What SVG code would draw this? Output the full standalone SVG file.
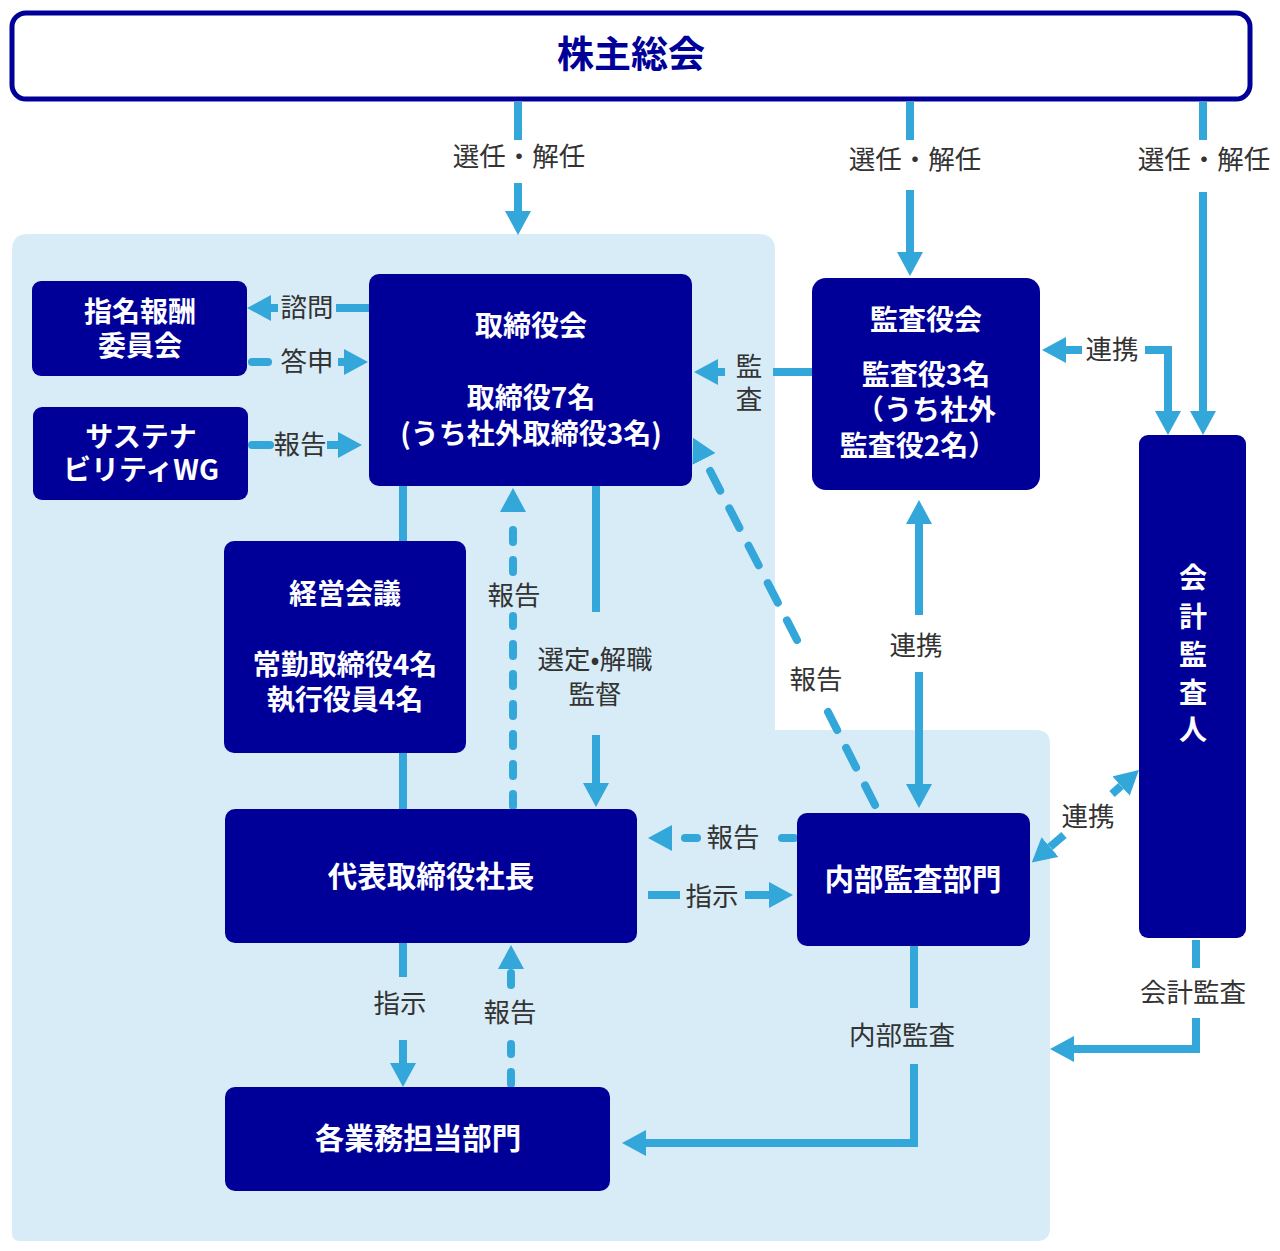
<svg xmlns="http://www.w3.org/2000/svg" width="1280" height="1251" viewBox="0 0 1280 1251">
<style>
.node{fill:#000099}
.nt{fill:#fff;font-family:"Noto Sans CJK JP","Noto Sans",sans-serif;font-weight:bold;font-size:28px;text-anchor:middle}
.nt1{font-size:29.5px}
.lbl{fill:#333;font-family:"Noto Sans CJK JP","Noto Sans",sans-serif;font-size:26.5px;text-anchor:middle}
.c{fill:none;stroke:#33A6DA;stroke-width:8}
.d{fill:none;stroke:#33A6DA;stroke-width:8;stroke-dasharray:12 18;stroke-linecap:round}
.dd{fill:none;stroke:#33A6DA;stroke-width:8;stroke-dasharray:22 20;stroke-linecap:round}
.r{stroke-linecap:round}
</style>
<defs>
<marker id="ah" markerUnits="userSpaceOnUse" viewBox="0 0 24 26" markerWidth="24" markerHeight="26" refX="0" refY="13" orient="auto">
<path d="M0,0 L24,13 L0,26 Z" fill="#33A6DA"/>
</marker>
</defs>
<rect width="1280" height="1251" fill="#fff"/>
<path d="M12,250 Q12,234 28,234 L759,234 Q775,234 775,250 L775,730 L1036,730 Q1050,730 1050,744 L1050,1228 Q1050,1241 1037,1241 L20,1241 Q12,1241 12,1233 Z" fill="#D7ECF7"/>

<g id="connectors">
<path class="c" d="M518,102 L518,140"/><path class="c" d="M518,183 L518,211" marker-end="url(#ah)"/>
<path class="c" d="M910,102 L910,140"/><path class="c" d="M910,190 L910,252" marker-end="url(#ah)"/>
<path class="c" d="M1203,102 L1203,140"/><path class="c" d="M1203,192 L1203,411" marker-end="url(#ah)"/>
<path class="c" d="M369,308 L336,308"/><path class="c" d="M278,308 L271,308" marker-end="url(#ah)"/>
<path class="c r" d="M252,362 L268,362"/><path class="c" d="M338,362 L344,362" marker-end="url(#ah)"/>
<path class="c r" d="M252,445 L270,445"/><path class="c" d="M327,445 L338,445" marker-end="url(#ah)"/>
<path class="c" d="M812,372 L773,372"/><path class="c" d="M725,372 L718,372" marker-end="url(#ah)"/>
<path class="c" d="M1082,350 L1066,350" marker-end="url(#ah)"/><path class="c" d="M1145,350 L1168,350 L1168,411" marker-end="url(#ah)"/>
<path class="c" d="M403,486 L403,541"/><path class="c" d="M403,753 L403,809"/>
<path class="d" d="M513,806 L513,616"/><path class="d" d="M513,572 L513,512" marker-end="url(#ah)"/>
<path class="c" d="M596,486 L596,612"/><path class="c" d="M596,735 L596,783" marker-end="url(#ah)"/>
<path class="dd" d="M875,805 L828,712"/><path class="dd" d="M797,640 L704,459" marker-end="url(#ah)"/>
<path class="c" d="M919,615 L919,524" marker-end="url(#ah)"/><path class="c" d="M919,672 L919,784" marker-end="url(#ah)"/>
<path class="d" d="M794,838 L768,838"/><path class="d" d="M697,838 L672,838" marker-end="url(#ah)"/>
<path class="c" d="M648,895 L680,895"/><path class="c" d="M745,895 L769,895" marker-end="url(#ah)"/>
<path class="c" d="M1064,835 L1050,847" marker-end="url(#ah)"/><path class="c" d="M1112,794 L1121,786" marker-end="url(#ah)"/>
<path class="c" d="M1196,940 L1196,968"/><path class="c" d="M1196,1018 L1196,1049 L1074,1049" marker-end="url(#ah)"/>
<path class="c" d="M914,946 L914,1008"/><path class="c" d="M914,1064 L914,1143 L646,1143" marker-end="url(#ah)"/>
<path class="c" d="M403,943 L403,977"/><path class="c" d="M403,1040 L403,1063" marker-end="url(#ah)"/>
<path class="d" d="M511,1084 L511,1044"/><path class="d" d="M511,985 L511,969" marker-end="url(#ah)"/>
</g>

<g id="labels">
<text class="lbl" x="519" y="166">選任・解任</text>
<text class="lbl" x="915" y="169">選任・解任</text>
<text class="lbl" x="1204" y="169">選任・解任</text>
<text class="lbl" x="307" y="317">諮問</text>
<text class="lbl" x="307" y="371">答申</text>
<text class="lbl" x="300" y="454">報告</text>
<text class="lbl"><tspan x="749" y="376">監</tspan><tspan x="749" y="409">査</tspan></text>
<text class="lbl" x="1112" y="359">連携</text>
<text class="lbl" x="514" y="605">報告</text>
<text class="lbl"><tspan x="595" y="669">選定•解職</tspan><tspan x="595" y="704">監督</tspan></text>
<text class="lbl" x="816" y="689">報告</text>
<text class="lbl" x="916" y="655">連携</text>
<text class="lbl" x="733" y="847">報告</text>
<text class="lbl" x="712" y="906">指示</text>
<text class="lbl" x="1088" y="826">連携</text>
<text class="lbl" x="1193" y="1002">会計監査</text>
<text class="lbl" x="902" y="1045">内部監査</text>
<text class="lbl" x="400" y="1013">指示</text>
<text class="lbl" x="510" y="1022">報告</text>
</g>

<g id="n-shareholders">
<rect x="12" y="13" width="1238" height="86" rx="14" fill="#fff" stroke="#000099" stroke-width="5"/>
<text x="631" y="68" fill="#000099" font-family="'Noto Sans CJK JP','Noto Sans',sans-serif" font-weight="bold" font-size="37" text-anchor="middle">株主総会</text>
</g>
<g id="n-nomination">
<rect class="node" x="32" y="281" width="215" height="95" rx="9"/>
<text class="nt"><tspan x="140" y="322">指名報酬</tspan><tspan x="140" y="356">委員会</tspan></text>
</g>
<g id="n-sustainability">
<rect class="node" x="33" y="407" width="215" height="93" rx="9"/>
<text class="nt"><tspan x="141" y="447">サステナ</tspan><tspan x="141" y="480">ビリティWG</tspan></text>
</g>
<g id="n-board">
<rect class="node" x="369" y="274" width="323" height="212" rx="10"/>
<text class="nt"><tspan x="531" y="336">取締役会</tspan><tspan x="531" y="408">取締役7名</tspan><tspan x="531" y="444">(うち社外取締役3名)</tspan></text>
</g>
<g id="n-auditboard">
<rect class="node" x="812" y="278" width="228" height="212" rx="14"/>
<text class="nt"><tspan x="926" y="330">監査役会</tspan><tspan x="926" y="385">監査役3名</tspan><tspan x="926" y="420">（うち社外</tspan><tspan x="918" y="456">監査役2名）</tspan></text>
</g>
<g id="n-accountant">
<rect class="node" x="1139" y="435" width="107" height="503" rx="9"/>
<text class="nt"><tspan x="1193" y="588">会</tspan><tspan x="1193" y="627">計</tspan><tspan x="1193" y="665">監</tspan><tspan x="1193" y="703">査</tspan><tspan x="1193" y="740">人</tspan></text>
</g>
<g id="n-management">
<rect class="node" x="224" y="541" width="242" height="212" rx="10"/>
<text class="nt"><tspan x="345" y="604">経営会議</tspan><tspan x="345" y="675">常勤取締役4名</tspan><tspan x="345" y="710">執行役員4名</tspan></text>
</g>
<g id="n-president">
<rect class="node" x="225" y="809" width="412" height="134" rx="10"/>
<text class="nt nt1" x="431" y="887">代表取締役社長</text>
</g>
<g id="n-internalaudit">
<rect class="node" x="797" y="813" width="233" height="133" rx="10"/>
<text class="nt nt1" x="913" y="890">内部監査部門</text>
</g>
<g id="n-departments">
<rect class="node" x="225" y="1087" width="385" height="104" rx="10"/>
<text class="nt nt1" x="418" y="1149">各業務担当部門</text>
</g>
</svg>
